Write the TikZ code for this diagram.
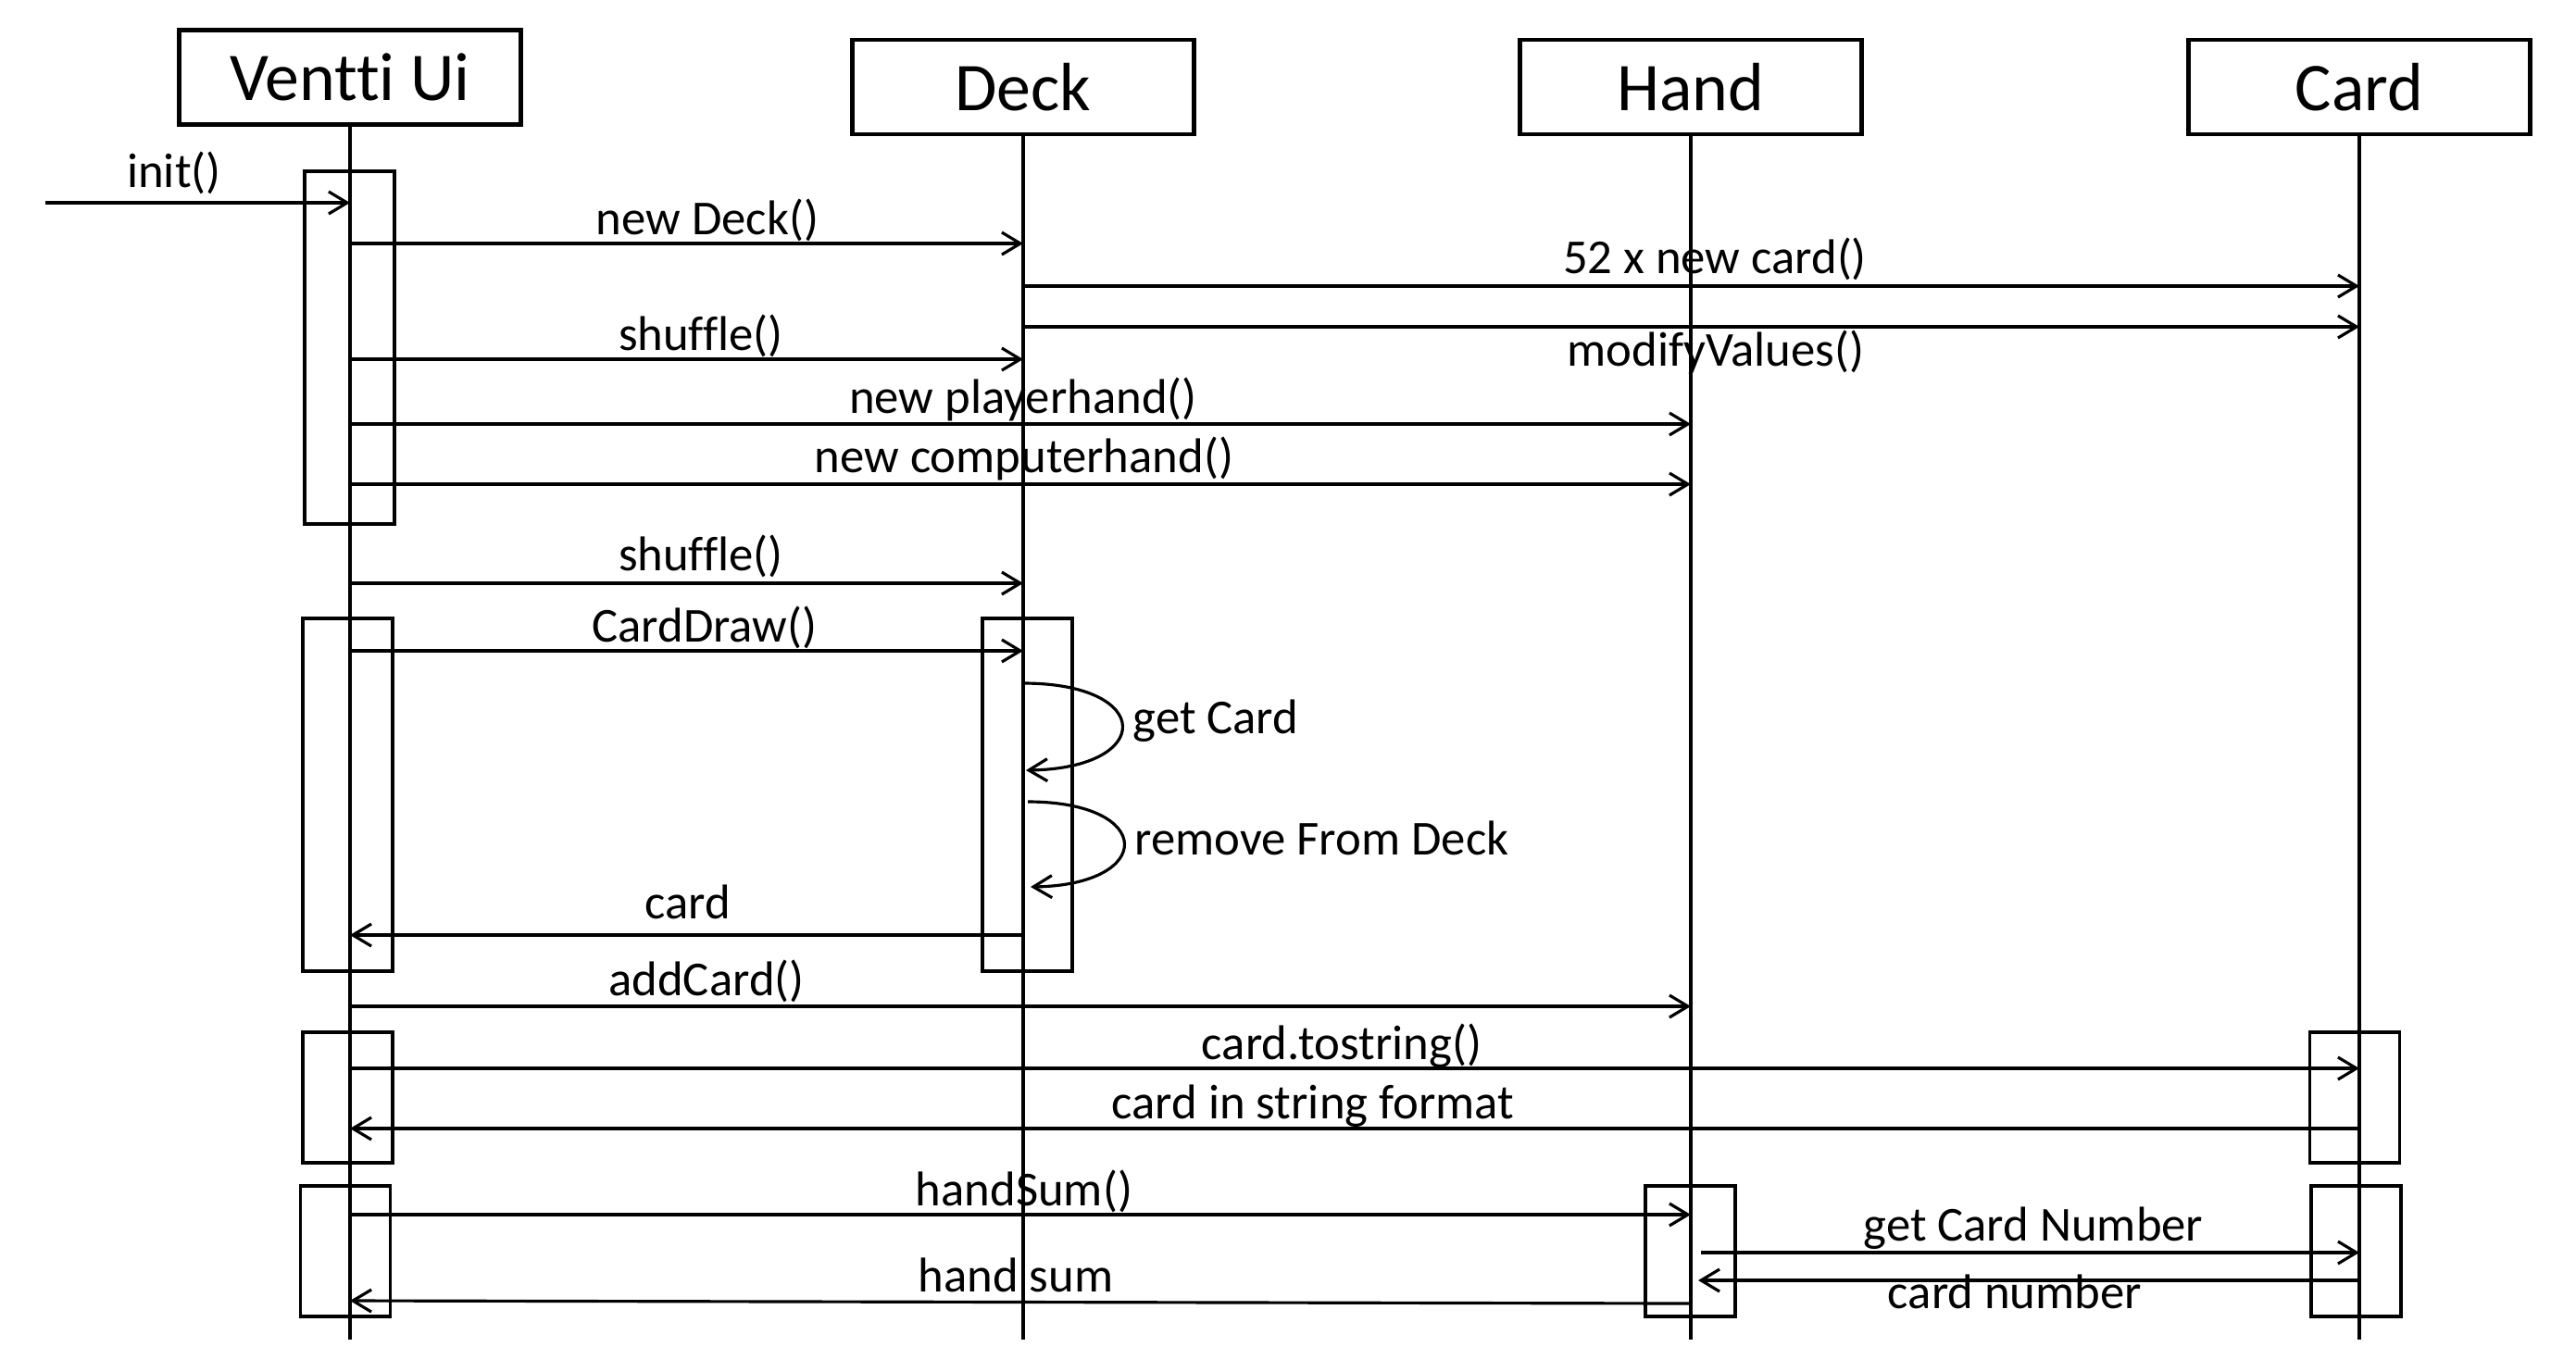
\documentclass[tikz,border=0pt]{standalone}
\usepackage{fontspec}
\setmainfont{Carlito}[Ligatures={CommonOff,ContextualOff}, Contextuals=AlternateOff]
\usepackage{tikz}
\usetikzlibrary{arrows.meta, calc}

\begin{document}
\begin{tikzpicture}[
  lifebox/.style={rectangle, draw, line width=1.4pt, minimum width=3.69cm, minimum height=1.02cm, inner sep=0pt, font=\fontsize{21}{25}\selectfont},
  actbox/.style={rectangle, draw, line width=0.9pt, minimum width=0.97cm, minimum height=1.41cm, inner sep=0pt},
  life/.style={line width=0.9pt},
  msg/.style={-{Straight Barb[length=2mm, width=2.4mm]}, line width=0.9pt},
  lbl/.style={font=\fontsize{15}{18}\selectfont, anchor=base, inner sep=0pt}
]
\useasboundingbox (0,0) rectangle (27.82,-14.54);
% objects
\node[lifebox] (ui) at (3.78,-0.835) {Ventti Ui};
\node[lifebox] (deck) at (11.05,-0.94) {Deck};
\node[lifebox] (hand) at (18.26,-0.94) {Hand};
\node[lifebox] (card) at (25.48,-0.94) {Card};
\coordinate (bot) at (0,-14.47);
\foreach \obj in {ui,deck,hand,card}
  \draw[life] (\obj.south) -- (\obj.south |- bot);
% activations
\node[actbox, minimum height=3.81cm] (act1) at (3.775,-3.755) {};
\node[actbox, minimum height=3.81cm] (act2) at (3.755,-8.585) {};
\node[actbox, minimum height=3.81cm] (act3) at (11.095,-8.585) {};
\node[actbox] (act4) at (3.755,-11.855) {};
\node[actbox] (act5) at (25.43,-11.855) {};
\node[actbox] (act6) at (3.73,-13.515) {};
\node[actbox] (act7) at (18.255,-13.515) {};
\node[actbox] (act8) at (25.445,-13.515) {};
% messages
\coordinate (start) at (0.49,-2.19);
\draw[msg] (start) -- (ui |- start);
\node[lbl] at (1.88,-2.02) {init()};
\draw[msg] (ui |- 0,-2.63) -- (deck |- 0,-2.63);
\node[lbl] at (7.64,-2.53) {new Deck()};
\draw[msg] (deck |- 0,-3.09) -- (card |- 0,-3.09);
\node[lbl] at (18.52,-2.95) {52 x new card()};
\draw[msg] (deck |- 0,-3.53) -- (card |- 0,-3.53);
\node[lbl] at (18.53,-3.95) {modifyValues()};
\draw[msg] (ui |- 0,-3.88) -- (deck |- 0,-3.88);
\node[lbl] at (7.57,-3.78) {shuffle()};
\draw[msg] (ui |- 0,-4.58) -- (hand |- 0,-4.58);
\node[lbl] at (11.05,-4.46) {new playerhand()};
\draw[msg] (ui |- 0,-5.23) -- (hand |- 0,-5.23);
\node[lbl] at (11.06,-5.10) {new computerhand()};
\draw[msg] (ui |- 0,-6.30) -- (deck |- 0,-6.30);
\node[lbl] at (7.57,-6.16) {shuffle()};
\draw[msg] (ui |- 0,-7.03) -- (deck |- 0,-7.03);
\node[lbl] at (7.61,-6.93) {CardDraw()};
% self calls
\draw[msg] (deck |- 0,-7.38) .. controls (12.47,-7.38) and (12.47,-8.30) .. ($(deck |- 0,-8.32)+(0.03,0)$);
\node[lbl, anchor=base west] at (12.23,-7.92) {get Card};
\draw[msg] ($(deck |- 0,-8.66)+(0.05,0)$) .. controls (12.48,-8.66) and (12.48,-9.56) .. ($(deck |- 0,-9.58)+(0.08,0)$);
\node[lbl, anchor=base west] at (12.25,-9.23) {remove From Deck};
\draw[msg] (deck |- 0,-10.10) -- (ui |- 0,-10.10);
\node[lbl] at (7.43,-9.92) {card};
\draw[msg] (ui |- 0,-10.87) -- (hand |- 0,-10.87);
\node[lbl] at (7.63,-10.75) {addCard()};
\draw[msg] (ui |- 0,-11.54) -- (card |- 0,-11.54);
\node[lbl] at (14.49,-11.44) {card.tostring()};
\draw[msg] (card |- 0,-12.19) -- (ui |- 0,-12.19);
\node[lbl] at (14.18,-12.08) {card in string format};
\draw[msg] (ui |- 0,-13.12) -- (hand |- 0,-13.12);
\node[lbl] at (11.06,-13.02) {handSum()};
\draw[msg] ($(hand |- 0,-13.53)+(0.11,0)$) -- (card |- 0,-13.53);
\node[lbl] at (21.96,-13.40) {get Card Number};
\draw[msg] (card |- 0,-13.83) -- ($(hand |- 0,-13.83)+(0.08,0)$);
\node[lbl] at (21.76,-14.13) {card number};
\draw[msg] (hand |- 0,-14.08) -- (ui |- 0,-14.05);
\node[lbl] at (10.97,-13.95) {hand sum};
\end{tikzpicture}
\end{document}
